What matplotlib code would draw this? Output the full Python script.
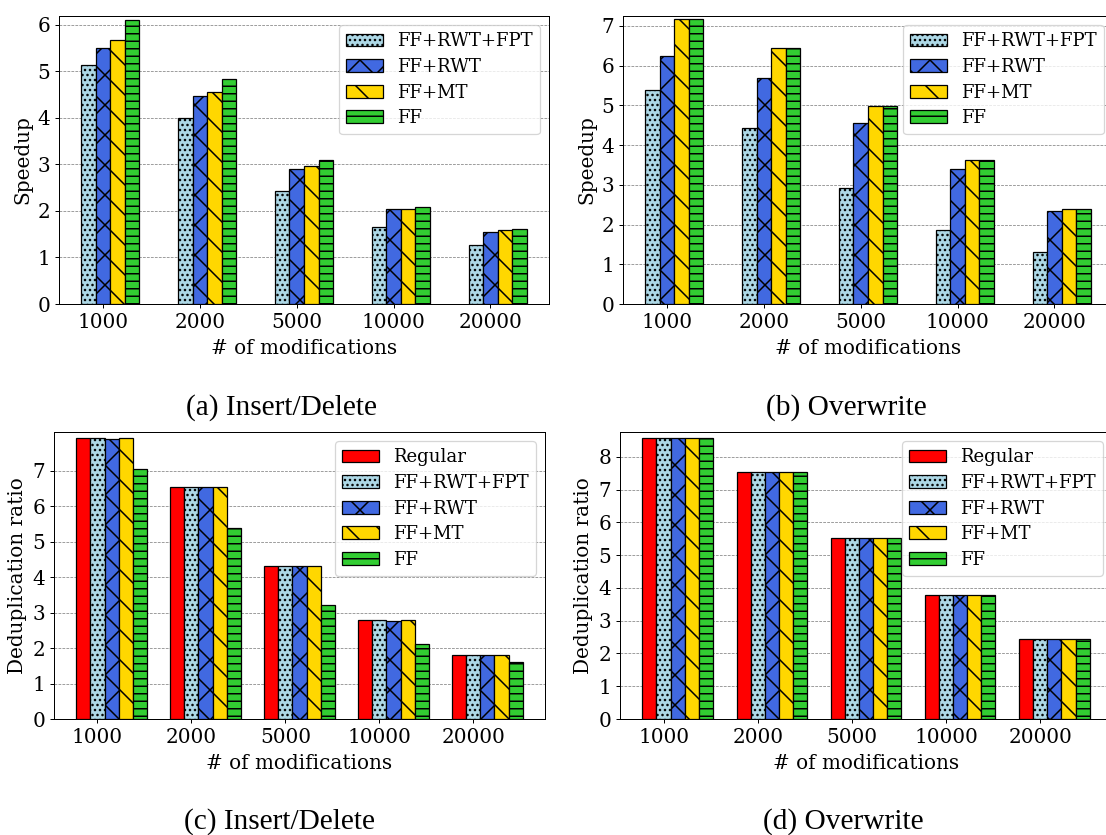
import numpy as np
import matplotlib
matplotlib.use('Agg')
import matplotlib.pyplot as plt

mods = ['1000', '2000', '5000', '10000', '20000']

# speedup, insert/delete workload
insdel_fpt = [5.13, 3.99, 2.43, 1.65, 1.27]
insdel_rwt = [5.51, 4.46, 2.90, 2.05, 1.54]
insdel_mt = [5.67, 4.56, 2.96, 2.05, 1.58]
insdel_ff = [6.11, 4.84, 3.09, 2.08, 1.62]

# speedup, overwrite workload
ow_fpt = [5.39, 4.42, 2.92, 1.87, 1.30]
ow_rwt = [6.24, 5.70, 4.55, 3.41, 2.34]
ow_mt = [7.17, 6.44, 4.99, 3.62, 2.40]
ow_ff = [7.17, 6.44, 4.99, 3.62, 2.40]

# deduplication ratio, insert/delete workload
dd_insdel_regular = [7.94, 6.56, 4.32, 2.79, 1.80]
dd_insdel_fpt = [7.94, 6.56, 4.32, 2.79, 1.80]
dd_insdel_rwt = [7.91, 6.54, 4.32, 2.77, 1.80]
dd_insdel_mt = [7.94, 6.56, 4.32, 2.79, 1.80]
dd_insdel_ff = [7.06, 5.38, 3.23, 2.11, 1.60]

# deduplication ratio, overwrite workload
dd_ow_regular = [8.59, 7.54, 5.51, 3.80, 2.43]
dd_ow_fpt = [8.59, 7.54, 5.51, 3.80, 2.43]
dd_ow_rwt = [8.59, 7.54, 5.51, 3.80, 2.43]
dd_ow_mt = [8.59, 7.54, 5.51, 3.80, 2.43]
dd_ow_ff = [8.59, 7.54, 5.51, 3.80, 2.43]

labels4 = ['FF+RWT+FPT', 'FF+RWT', 'FF+MT', 'FF']
labels5 = ['Regular'] + labels4
colors = {'Regular': 'red', 'FF+RWT+FPT': 'lightblue', 'FF+RWT': 'royalblue',
          'FF+MT': 'gold', 'FF': 'limegreen'}
hatches = {'Regular': '', 'FF+RWT+FPT': '...', 'FF+RWT': 'x',
           'FF+MT': '\\', 'FF': '--'}

plt.rcParams['font.family'] = 'DejaVu Serif'
plt.rcParams['font.size'] = 16
plt.rcParams['hatch.linewidth'] = 1.2

W, H = 1106, 835
fig = plt.figure(figsize=(W / 90, H / 90), dpi=90)


def panel(left, top, bottom, width):
    return fig.add_axes([left / W, 1 - bottom / H, width / W, (bottom - top) / H])


def draw(ax, series, labels, ylabel, ymax, yticks):
    w = 0.15
    x = np.arange(len(mods))
    for i, (vals, lab) in enumerate(zip(series, labels)):
        ax.bar(x + (i - 1) * w, vals, w, color=colors[lab], hatch=hatches[lab],
               edgecolor='black', linewidth=1, label=lab)
    ax.set_xticks(x)
    ax.set_xticklabels(mods)
    ax.set_ylim(0, ymax)
    ax.set_yticks(yticks)
    ax.set_xlabel('# of modifications', labelpad=6)
    ax.set_ylabel(ylabel)
    ax.set_axisbelow(True)
    ax.yaxis.grid(True, linestyle='--', color='gray', linewidth=0.6)
    ax.legend(loc='upper right', fontsize=14.5, labelspacing=0.42)


ax1 = panel(59, 16, 304, 490)
draw(ax1, [insdel_fpt, insdel_rwt, insdel_mt, insdel_ff], labels4,
     'Speedup', 6.19, range(0, 7))

ax2 = panel(623, 16, 304, 490)
draw(ax2, [ow_fpt, ow_rwt, ow_mt, ow_ff], labels4,
     'Speedup', 7.25, range(0, 8))

ax3 = panel(54, 432, 719, 491)
draw(ax3, [dd_insdel_regular, dd_insdel_fpt, dd_insdel_rwt, dd_insdel_mt, dd_insdel_ff],
     labels5, 'Deduplication ratio', 8.10, range(0, 8))

ax4 = panel(620, 432, 719, 492)
draw(ax4, [dd_ow_regular, dd_ow_fpt, dd_ow_rwt, dd_ow_mt, dd_ow_ff],
     labels5, 'Deduplication ratio', 8.76, range(0, 9))

# sub-figure captions
cap = dict(family='Liberation Serif', fontsize=23.5, ha='center', va='center')
fig.text(282 / W, 1 - 408 / H, '(a) Insert/Delete', **cap)
fig.text(846 / W, 1 - 408 / H, '(b) Overwrite', **cap)
fig.text(280 / W, 1 - 822 / H, '(c) Insert/Delete', **cap)
fig.text(843 / W, 1 - 822 / H, '(d) Overwrite', **cap)

fig.savefig('out.png', dpi=90)
